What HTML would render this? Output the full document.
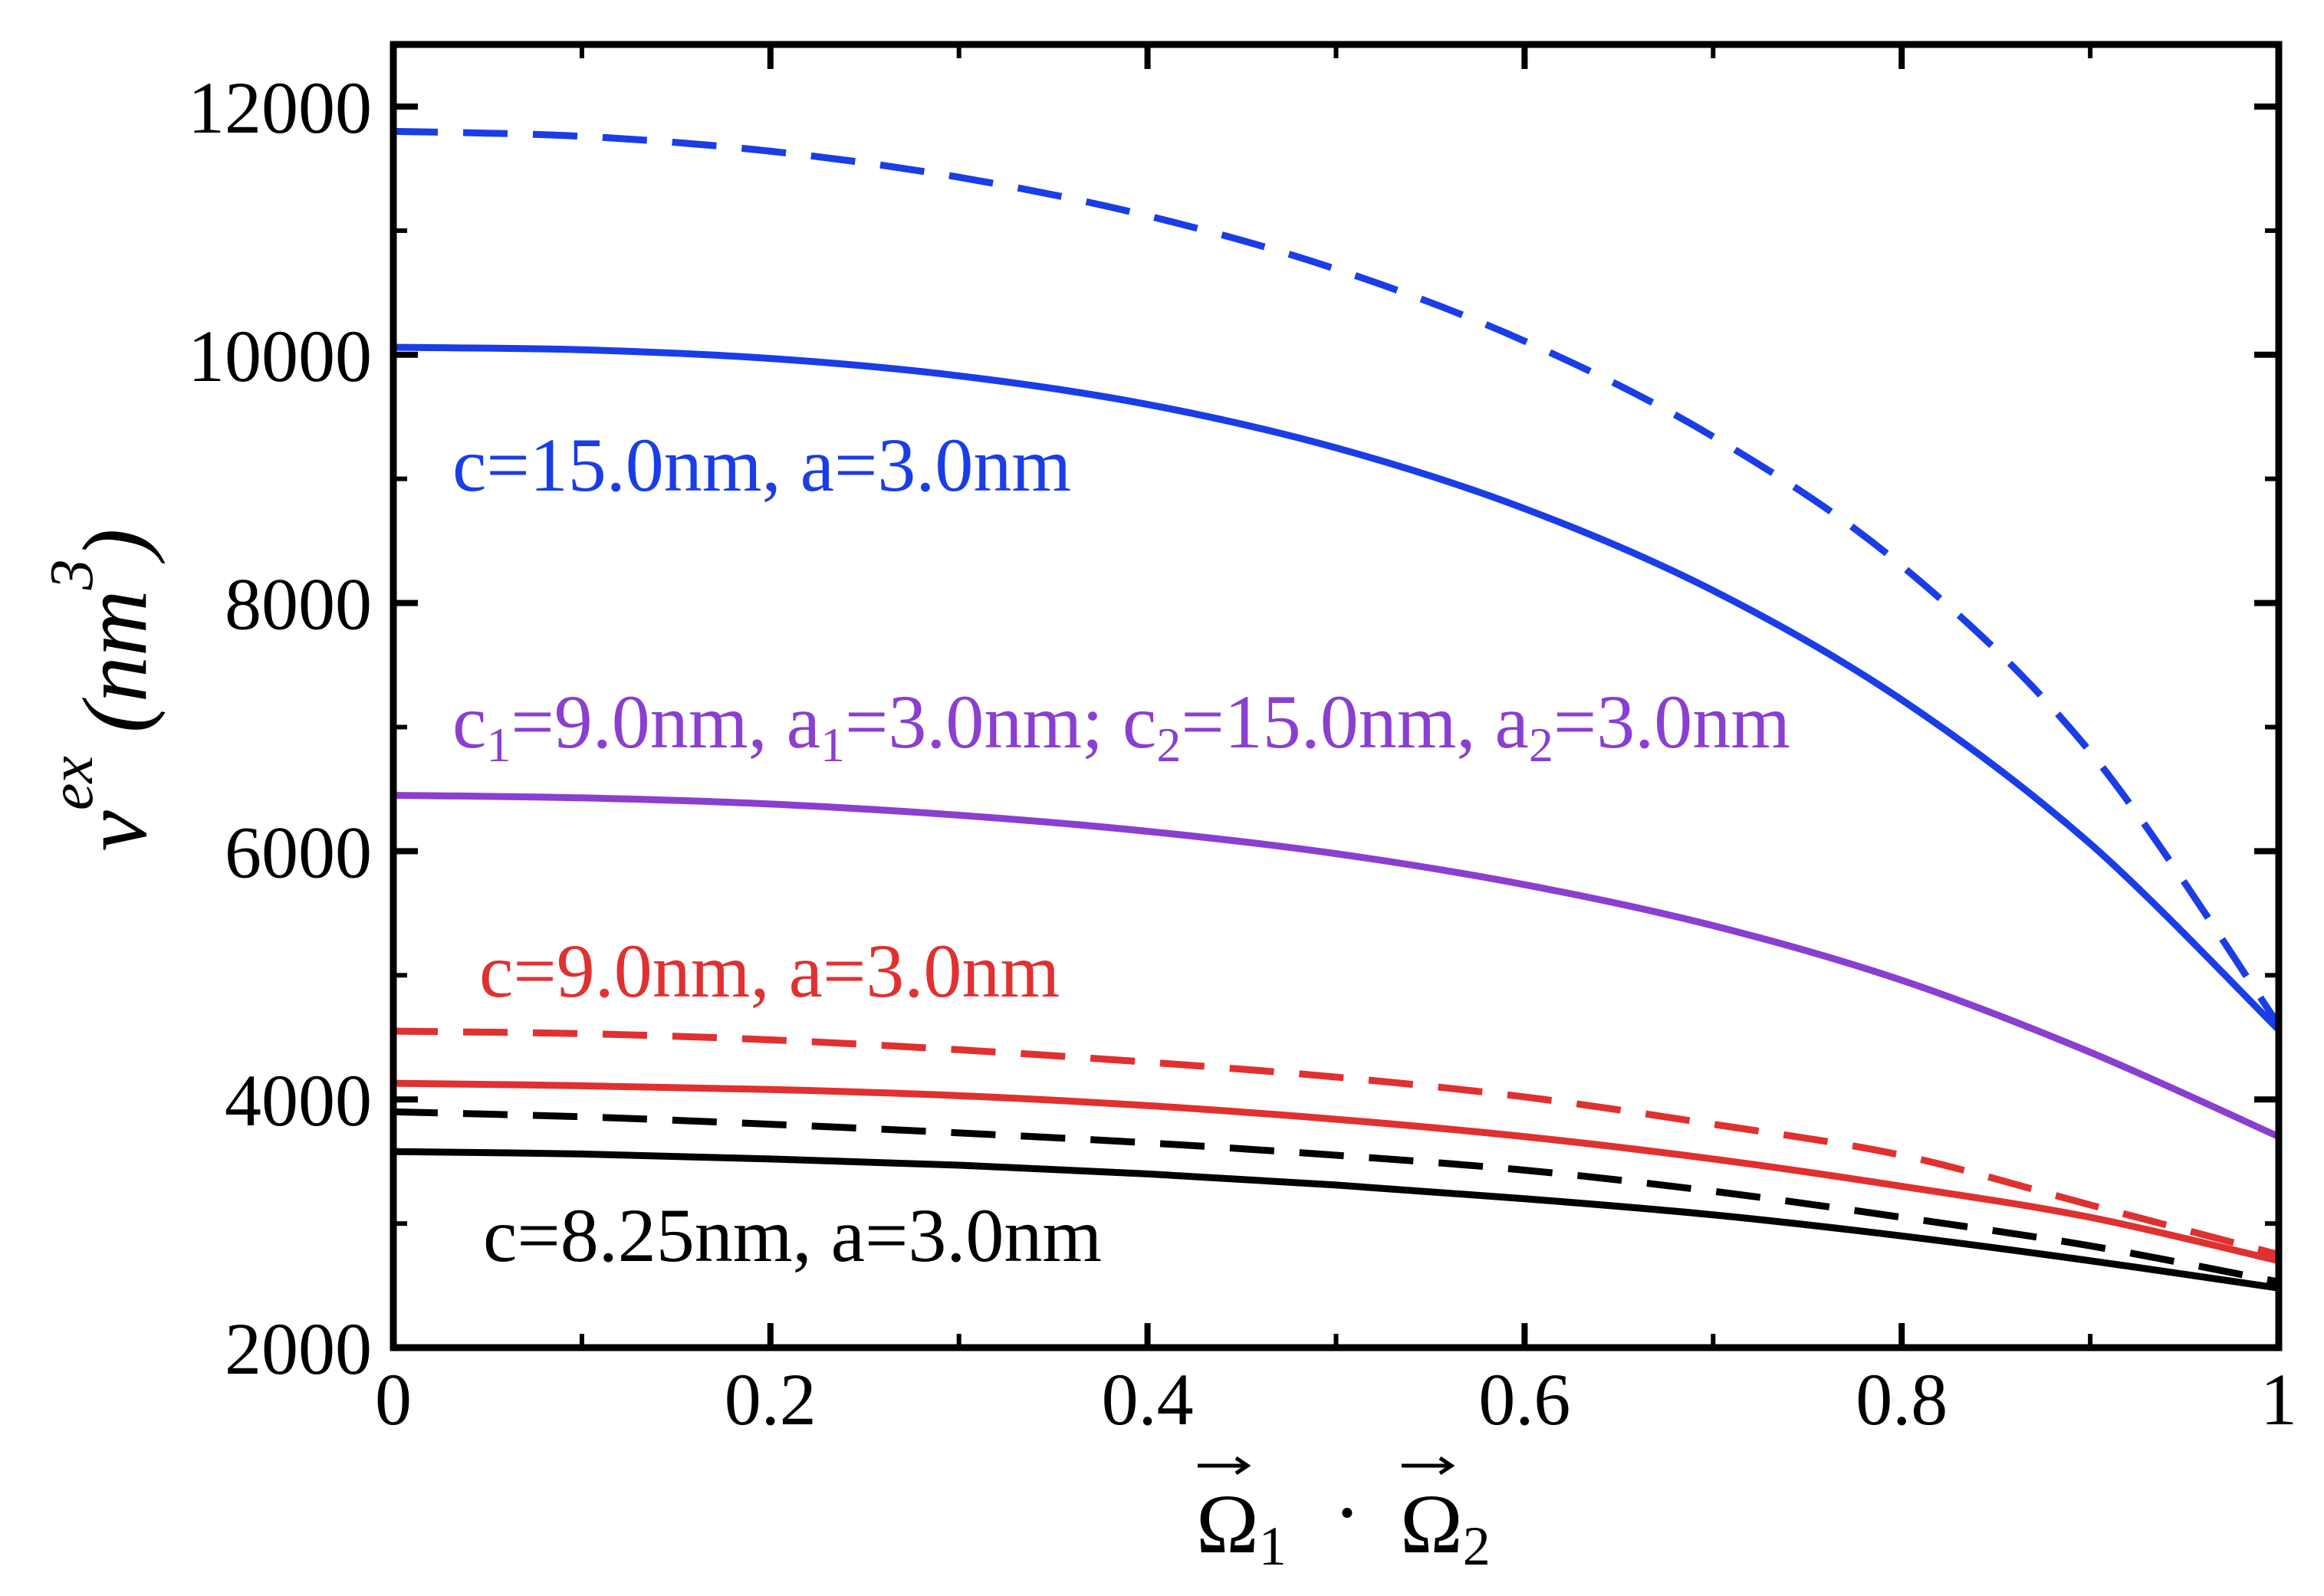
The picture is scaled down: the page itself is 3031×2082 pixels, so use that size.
<!DOCTYPE html>
<html><head><meta charset="utf-8"><style>
html,body{margin:0;padding:0;background:#fff;}
svg{display:block;}
text{font-family:"Liberation Serif",serif;}
</style></head><body>
<svg id="chart" width="3031" height="2082" viewBox="0 0 3031 2082" xmlns="http://www.w3.org/2000/svg">
<g id="curves"></g>
<g id="axes"></g>
<text x="590" y="640" font-size="100" fill="#1a3de8">c=15.0nm, a=3.0nm</text>
<text x="590" y="975" font-size="100" fill="#8a3fd0">c<tspan font-size="64" dy="18">1</tspan><tspan dy="-18">=9.0nm, a</tspan><tspan font-size="64" dy="18">1</tspan><tspan dy="-18">=3.0nm; c</tspan><tspan font-size="64" dy="18">2</tspan><tspan dy="-18">=15.0nm, a</tspan><tspan font-size="64" dy="18">2</tspan><tspan dy="-18">=3.0nm</tspan></text>
<text x="625" y="1300" font-size="100" fill="#e03030">c=9.0nm, a=3.0nm</text>
<text x="630" y="1645" font-size="100" fill="#000">c=8.25nm, a=3.0nm</text>
<g transform="translate(190,900) rotate(-90)">
<text x="0" y="0" text-anchor="middle" font-size="120" font-style="italic">v<tspan font-size="80" dy="-70">ex</tspan><tspan dy="70"> (nm</tspan><tspan font-size="80" dy="-70">3</tspan><tspan dy="70">)</tspan></text>
</g>
<g>
<text x="1560" y="2025" font-size="110" font-family="DejaVu Sans, sans-serif">Ω<tspan font-size="72" dy="16">1</tspan></text>
<text x="1757" y="2010" font-size="110" text-anchor="middle">·</text>
<text x="1826" y="2025" font-size="110" font-family="DejaVu Sans, sans-serif">Ω<tspan font-size="72" dy="16">2</tspan></text>
<path d="M1562 1912 H1625 M1612 1902 L1627 1912 L1612 1922 M1828 1912 H1891 M1878 1902 L1893 1912 L1878 1922" stroke="#000" stroke-width="5" fill="none"/>
</g>
</svg>
<script>
const xValues=[0,0.1,0.2,0.3,0.4,0.5,0.6,0.7,0.8,0.9,1.0];
const blueDashed=[11800,11760,11640,11430,11120,10690,10110,9340,8300,6800,4600];
const blueSolid=[10060,10040,9970,9830,9600,9250,8760,8100,7220,6060,4560];
const purpleSolid=[6450,6430,6380,6290,6160,5980,5730,5400,4960,4380,3700];
const redDashed=[4550,4530,4480,4400,4300,4180,4020,3800,3550,3150,2750];
const redSolid=[4130,4110,4080,4030,3950,3840,3700,3520,3300,3050,2700];
const blackDashed=[3900,3860,3800,3730,3650,3550,3430,3260,3050,2820,2530];
const blackSolid=[3580,3560,3520,3470,3400,3310,3200,3070,2900,2700,2480];
const xTicks=[0,0.2,0.4,0.6,0.8,1];
const xTickLabels=["0","0.2","0.4","0.6","0.8","1"];
const yTicks=[2000,4000,6000,8000,10000,12000];
const yTickLabels=["2000","4000","6000","8000","10000","12000"];
const X0=513,X1=2972,YT=58,YB=1758,VMIN=2000,VMAX=12500;
const sx=v=>X0+(v-0)/(1-0)*(X1-X0);
const sy=v=>YB-(v-VMIN)/(VMAX-VMIN)*(YB-YT);
const NS="http://www.w3.org/2000/svg";
function mk(t,a,p){const e=document.createElementNS(NS,t);for(const k in a)e.setAttribute(k,a[k]);p.appendChild(e);return e;}
function pathFor(vals){
 const pts=xValues.map((x,i)=>[sx(x),sy(vals[i])]);
 let d="M"+pts[0][0]+" "+pts[0][1];
 for(let i=0;i<pts.length-1;i++){
  const p0=pts[Math.max(0,i-1)],p1=pts[i],p2=pts[i+1],p3=pts[Math.min(pts.length-1,i+2)];
  const c1=[p1[0]+(p2[0]-p0[0])/6,p1[1]+(p2[1]-p0[1])/6];
  const c2=[p2[0]-(p3[0]-p1[0])/6,p2[1]-(p3[1]-p1[1])/6];
  d+=` C${c1[0]} ${c1[1]} ${c2[0]} ${c2[1]} ${p2[0]} ${p2[1]}`;
 }
 return d;
}
const curves=document.getElementById('curves');
const series=[
 [blueDashed,"#1a3de8",true,"curve-blue-dashed"],
 [blueSolid,"#1a3de8",false,"curve-blue-solid"],
 [purpleSolid,"#8a3fd0",false,"curve-purple-solid"],
 [redDashed,"#e03030",true,"curve-red-dashed"],
 [redSolid,"#e03030",false,"curve-red-solid"],
 [blackDashed,"#000000",true,"curve-black-dashed"],
 [blackSolid,"#000000",false,"curve-black-solid"]
];
for(const s of series){
 const p=mk('path',{d:pathFor(s[0]),stroke:s[1],'stroke-width':9,fill:'none'},curves);
 if(s[2])p.setAttribute('stroke-dasharray','58 33');
 
 
}
const axes=document.getElementById('axes');
const frame=mk('rect',{x:X0,y:YT,width:X1-X0,height:YB-YT,fill:'none',stroke:'#000','stroke-width':9},axes);


for(let v=0;v<=1.0001;v+=0.1){
 const major=Math.abs(v*5-Math.round(v*5))<1e-6;const L=major?32:18;const x=sx(v);
 mk('line',{x1:x,y1:YB,x2:x,y2:YB-L,stroke:'#000','stroke-width':major?8:6},axes);
 mk('line',{x1:x,y1:YT,x2:x,y2:YT+L,stroke:'#000','stroke-width':major?8:6},axes);
}
for(let v=3000;v<=12000;v+=1000){
 const major=v%2000===0;const L=major?32:18;const y=sy(v);
 mk('line',{x1:X0,y1:y,x2:X0+L,y2:y,stroke:'#000','stroke-width':major?8:6},axes);
 mk('line',{x1:X1,y1:y,x2:X1-L,y2:y,stroke:'#000','stroke-width':major?8:6},axes);
}
xTicks.forEach((v,i)=>{
 const t=mk('text',{x:sx(v),y:YB+100,'text-anchor':'middle','font-size':96},axes);
 t.textContent=xTickLabels[i];
 
 
});
yTicks.forEach((v,i)=>{
 const t=mk('text',{x:X0-28,y:sy(v)+34,'text-anchor':'end','font-size':96},axes);
 t.textContent=yTickLabels[i];
 
 
});
</script>
</body></html>
